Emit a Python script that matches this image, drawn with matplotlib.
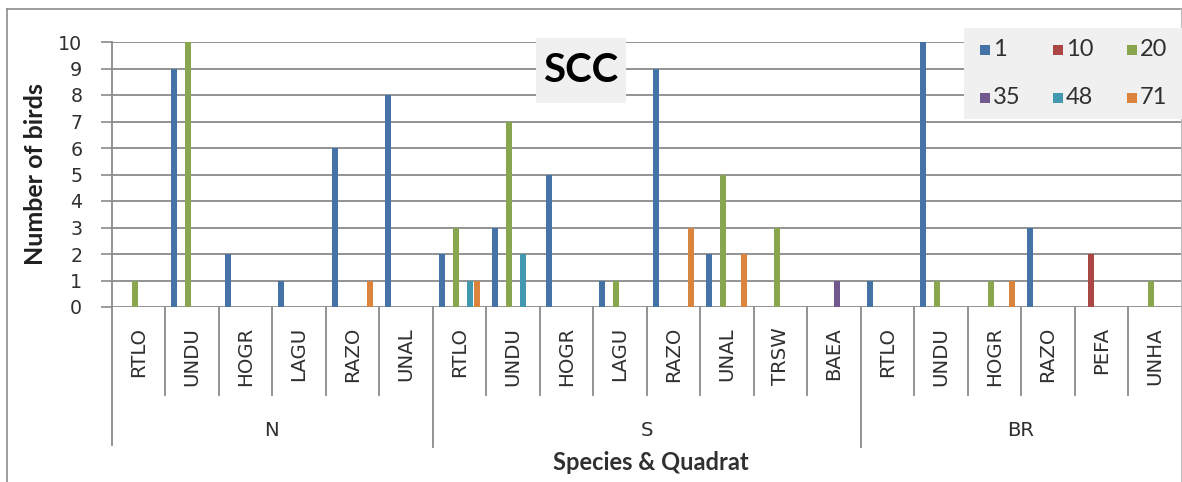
import matplotlib
matplotlib.use("Agg")
import matplotlib.pyplot as plt
import matplotlib.transforms as mtransforms
from matplotlib.patches import Rectangle
from matplotlib.lines import Line2D
import numpy as np

# ---------------- data ----------------
groups = ["N", "S", "BR"]
species_N = ["RTLO", "UNDU", "HOGR", "LAGU", "RAZO", "UNAL"]
species_S = ["RTLO", "UNDU", "HOGR", "LAGU", "RAZO", "UNAL", "TRSW", "BAEA"]
species_BR = ["RTLO", "UNDU", "HOGR", "RAZO", "PEFA", "UNHA"]
series_names = ["1", "10", "20", "35", "48", "71"]

# values per series, in category order N..., S..., BR...
s1 = [0, 9, 2, 1, 6, 8,   2, 3, 5, 1, 9, 2, 0, 0,   1, 10, 0, 3, 0, 0]
s10 = [0, 0, 0, 0, 0, 0,  0, 0, 0, 0, 0, 0, 0, 0,   0, 0, 0, 0, 2, 0]
s20 = [1, 10, 0, 0, 0, 0, 3, 7, 0, 1, 0, 5, 3, 0,   0, 1, 1, 0, 0, 1]
s35 = [0, 0, 0, 0, 0, 0,  0, 0, 0, 0, 0, 0, 0, 1,   0, 0, 0, 0, 0, 0]
s48 = [0, 0, 0, 0, 0, 0,  1, 2, 0, 0, 0, 0, 0, 0,   0, 0, 0, 0, 0, 0]
s71 = [0, 0, 0, 0, 1, 0,  1, 0, 0, 0, 3, 2, 0, 0,   0, 0, 1, 0, 0, 0]
series_values = [s1, s10, s20, s35, s48, s71]
colors = ["#4572A7", "#AA4643", "#89A54E", "#71588F", "#4198AF", "#DB843D"]
yticks = list(range(0, 11))

categories = species_N + species_S + species_BR
group_sizes = [len(species_N), len(species_S), len(species_BR)]

# ---------------- figure ----------------
W, H = 1182, 482
fig = plt.figure(figsize=(W / 100, H / 100), dpi=100)
fig.patch.set_facecolor("white")

def fx(x):
    return x / W

def fy(y):
    return 1 - y / H

ax_left, ax_right, ax_top, ax_bot = 111.5, 1181.5, 42, 307
ax = fig.add_axes([fx(ax_left), fy(ax_bot), (ax_right - ax_left) / W, (ax_bot - ax_top) / H])
ax.set_facecolor("none")

n = len(categories)
x = np.arange(n)
slot = 0.132
bw = 0.112
for i, (vals, col) in enumerate(zip(series_values, colors)):
    ax.bar(x + (i - 2.5) * slot, vals, width=bw, color=col, zorder=3, linewidth=0)

tick_fs = 13.7
cat_fs = 14.2
txt_col = "#303030"
ax.set_xlim(-0.5, n - 0.5)
ax.set_ylim(0, 10)
ax.set_yticks(yticks)
ax.set_yticklabels([str(t) for t in yticks], fontfamily="DejaVu Sans", fontsize=tick_fs, color=txt_col)
ax.tick_params(axis="y", length=8, width=1.2, color="#8a8a8a", pad=13)
ax.set_xticks([])
for sp in ["top", "right", "bottom", "left"]:
    ax.spines[sp].set_visible(False)
ax.yaxis.grid(True, color="#8a8a8a", linewidth=1.3, zorder=1)
ax.set_axisbelow(True)

trans = mtransforms.blended_transform_factory(ax.transData, fig.transFigure)
gcol = "#8a8a8a"

# y axis line, extended down through the category axis
fig.add_artist(Line2D([fx(ax_left), fx(ax_left)], [fy(ax_top), fy(445)], color=gcol, lw=1.3))

# category separators
group_bounds = [0, 6, 14, 20]
for k in range(1, n + 1):
    xb = k - 0.5
    yend = 447 if k in group_bounds else 395
    ax.add_line(Line2D([xb, xb], [fy(ax_bot), fy(yend)], transform=trans, color=gcol, lw=1.3, clip_on=False))

# category labels
for k, lab in enumerate(categories):
    ax.text(k, fy(327), lab, transform=trans, rotation=90, ha="center", va="top",
            fontfamily="DejaVu Sans", fontsize=cat_fs, color=txt_col)

# group labels
start = 0
for g, size in zip(groups, group_sizes):
    center = start + size / 2 - 0.5
    ax.text(center, fy(430), g, transform=trans, ha="center", va="center",
            fontfamily="DejaVu Sans", fontsize=cat_fs, color=txt_col)
    start += size

# axis titles
fig.text(fx(651), fy(463), "Species & Quadrat", ha="center", va="center",
         fontfamily="Lato", fontweight="bold", fontsize=17, color=txt_col)
fig.text(fx(36), fy(174), "Number of birds", ha="center", va="center", rotation=90,
         fontfamily="Lato", fontweight="bold", fontsize=18, color="#202020")

# title box
fig.add_artist(Rectangle((fx(536), fy(103)), (626 - 536) / W, (103 - 38) / H,
                         transform=fig.transFigure, facecolor="#F0F0F0", edgecolor="none", zorder=5))
fig.text(fx(581), fy(71), "SCC", ha="center", va="center", fontfamily="Lato",
         fontweight="bold", fontsize=29, color="black", zorder=6)

# legend box
fig.add_artist(Rectangle((fx(964), fy(119)), (1182 - 964) / W, (119 - 28) / H,
                         transform=fig.transFigure, facecolor="#F0F0F0", edgecolor="none", zorder=5))
leg_cols_x = [985, 1058, 1132]
leg_rows_y = [50, 98]
for idx, (name, col) in enumerate(zip(series_names, colors)):
    r, c = divmod(idx, 3)
    mx, my = leg_cols_x[c], leg_rows_y[r]
    fig.add_artist(Rectangle((fx(mx - 5), fy(my + 5)), 10 / W, 10 / H, transform=fig.transFigure,
                             facecolor=col, edgecolor="none", zorder=6))
    fig.text(fx(mx + 8), fy(my), name, ha="left", va="center", fontfamily="Lato",
             fontsize=17, color=txt_col, zorder=6)

# outer chart border
fig.add_artist(Line2D([fx(7), fx(7)], [fy(9), 0], color="#8c8c8c", lw=1.2))
fig.add_artist(Line2D([fx(7), fx(1180.5)], [fy(9), fy(9)], color="#8c8c8c", lw=1.2))
fig.add_artist(Line2D([fx(1180.5), fx(1180.5)], [fy(9), 0], color="#bdbdbd", lw=0.8))

fig.savefig("out.png", dpi=100)
